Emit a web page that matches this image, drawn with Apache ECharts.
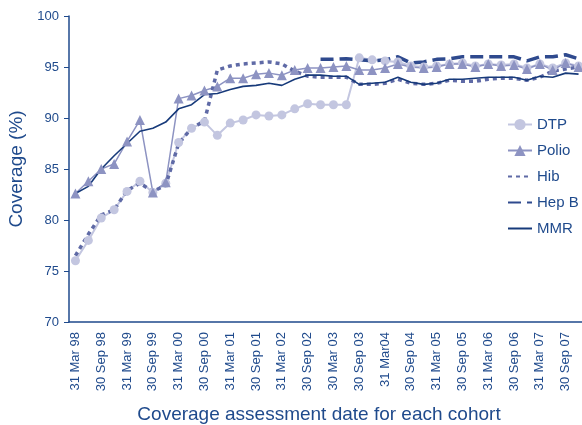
<!DOCTYPE html>
<html>
<head>
<meta charset="utf-8">
<script src="https://cdn.jsdelivr.net/npm/echarts@6/dist/echarts.min.js"></script>
<style>
    html, body { margin: 0; padding: 0; background: #fff; }
    #coverage_line { width: 582px; height: 425px; }
</style>
</head>
<body>
<div id="coverage_line"></div>
<script>
// quarterly assessment dates (only every other one is labelled)
var dates = ['31 Mar 98', '30 Jun 98', '30 Sep 98', '31 Dec 98', '31 Mar 99', '30 Jun 99', '30 Sep 99', '31 Dec 99',
    '31 Mar 00', '30 Jun 00', '30 Sep 00', '31 Dec 00', '31 Mar 01', '30 Jun 01', '30 Sep 01', '31 Dec 01',
    '31 Mar 02', '30 Jun 02', '30 Sep 02', '31 Dec 02', '30 Mar 03', '30 Jun 03', '30 Sep 03', '31 Dec 03',
    '31 Mar04', '30 Jun 04', '30 Sep 04', '31 Dec 04', '31 Mar 05', '30 Jun 05', '30 Sep 05', '31 Dec 05',
    '31 Mar 06', '30 Jun 06', '30 Sep 06', '31 Dec 06', '31 Mar 07', '30 Jun 07', '30 Sep 07', '31 Dec 07'];

var dtp = [76.0, 78.0, 80.2, 81.0, 82.8, 83.8, 82.7, 83.6, 87.6, 89.0, 89.6, 88.3, 89.5, 89.8, 90.3, 90.2,
    90.3, 90.9, 91.4, 91.3, 91.3, 91.3, 95.9, 95.7, 95.6, 95.5, 95.1, 95.0, 95.1, 95.3, 95.4, 95.1,
    95.3, 95.2, 95.3, 94.9, 95.3, 94.9, 95.4, 95.1];
var polio = [82.6, 83.8, 85.0, 85.5, 87.7, 89.8, 82.7, 83.7, 91.9, 92.2, 92.7, 93.1, 93.9, 93.9, 94.3, 94.4,
    94.2, 94.7, 94.9, 94.9, 95.0, 95.1, 94.7, 94.7, 94.9, 95.3, 95.0, 94.9, 95.0, 95.3, 95.3, 95.0,
    95.3, 95.1, 95.2, 94.8, 95.3, 94.7, 95.4, 95.0];
var hib = [76.5, 78.6, 80.5, 81.0, 82.9, 83.6, 82.8, 83.4, 87.5, 89.0, 89.7, 94.7, 95.1, 95.3, 95.4, 95.5,
    95.3, 94.6, 94.1, 94.0, 94.0, 94.0, 93.3, 93.3, 93.4, 93.8, 93.4, 93.3, 93.4, 93.7, 93.6, 93.6,
    93.8, 93.9, 93.9, 93.7, 94.0, 94.6, 94.8, 95.0];
var hepB = [null, null, null, null, null, null, null, null, null, null, null, null, null, null, null, null,
    null, null, null, 95.75, 95.75, 95.8, 95.7, 95.6, 95.7, 96.0, 95.4, 95.5, 95.75, 95.8, 96.0, 96.0,
    96.0, 96.0, 96.0, 95.6, 96.0, 96.0, 96.2, 95.8];
var mmr = [82.6, 83.3, 85.0, 86.3, 87.5, 88.7, 89.0, 89.6, 90.9, 91.3, 92.3, 92.4, 92.8, 93.1, 93.2, 93.4,
    93.2, 93.8, 94.2, 94.2, 94.1, 94.1, 93.3, 93.4, 93.5, 94.0, 93.5, 93.3, 93.4, 93.8, 93.8, 93.9,
    94.0, 94.0, 94.0, 93.7, 94.1, 94.0, 94.4, 94.3];

var blue = '#1f4a8c';
var font = 'Liberation Sans, Arial, sans-serif';

var myChart = echarts.init(document.getElementById('coverage_line'));

// legend entries without a marker: hide the symbol, keep the line
var noMarker = { color: 'rgba(0,0,0,0)', opacity: 0 };

var option = {
    animation: false,
    textStyle: { fontFamily: font },
    // plot runs slightly past the right edge, like the cropped original
    grid: { left: 69, top: 16, width: 516, bottom: 103, containLabel: false, outerBoundsMode: 'none' },
    legend: {
        orient: 'vertical',
        left: 502,
        top: 112,
        itemWidth: 24,
        itemHeight: 14,
        itemGap: 11,
        textStyle: { color: blue, fontSize: 15, fontFamily: font },
        data: [
            'DTP',
            'Polio',
            { name: 'Hib', itemStyle: noMarker },
            { name: 'Hep B', itemStyle: noMarker },
            { name: 'MMR', itemStyle: noMarker }
        ]
    },
    xAxis: {
        type: 'category',
        data: dates,
        boundaryGap: true,
        name: 'Coverage assessment date for each cohort',
        nameLocation: 'middle',
        nameGap: 83,
        nameTextStyle: { color: blue, fontSize: 19, fontFamily: font, padding: [0, 16, 0, 0] },
        axisLine: { lineStyle: { color: blue, width: 1.5 } },
        axisTick: { interval: 0, length: 5, lineStyle: { color: blue } },
        // labels sit a little right of the points in the original
        axisLabel: { interval: 1, rotate: 90, color: blue, fontSize: 13, margin: 10, padding: [8, 0, 0, 0] }
    },
    yAxis: {
        type: 'value',
        min: 70,
        max: 100,
        interval: 5,
        name: 'Coverage (%)',
        nameLocation: 'middle',
        nameGap: 38,
        nameTextStyle: { color: blue, fontSize: 19, fontFamily: font },
        splitLine: { show: false },
        axisLine: { show: true, lineStyle: { color: blue, width: 1.5 } },
        axisTick: { show: true, length: 5, lineStyle: { color: blue } },
        axisLabel: { color: blue, fontSize: 13, margin: 10 }
    },
    series: [
        {
            name: 'DTP', type: 'line', data: dtp,
            symbol: 'circle', symbolSize: 9, showAllSymbol: true,
            itemStyle: { color: '#c3c6e0' },
            lineStyle: { color: '#c3c6e0', width: 2 }
        },
        {
            name: 'Polio', type: 'line', data: polio,
            symbol: 'triangle', symbolSize: 10, showAllSymbol: true,
            itemStyle: { color: '#8d93c2' },
            lineStyle: { color: '#8d93c2', width: 1.5 }
        },
        {
            name: 'Hib', type: 'line', data: hib,
            showSymbol: false, symbol: 'none',
            itemStyle: { color: '#5f6aa6' },
            lineStyle: { color: '#5f6aa6', width: 3.5, type: [4, 4] }
        },
        {
            name: 'Hep B', type: 'line', data: hepB,
            showSymbol: false, symbol: 'none',
            itemStyle: { color: '#2f4a8e' },
            lineStyle: { color: '#2f4a8e', width: 3.5, type: [13, 6] }
        },
        {
            name: 'MMR', type: 'line', data: mmr,
            showSymbol: false, symbol: 'none',
            itemStyle: { color: '#173a7a' },
            lineStyle: { color: '#173a7a', width: 1.6 }
        }
    ]
};

myChart.setOption(option);
</script>
</body>
</html>
